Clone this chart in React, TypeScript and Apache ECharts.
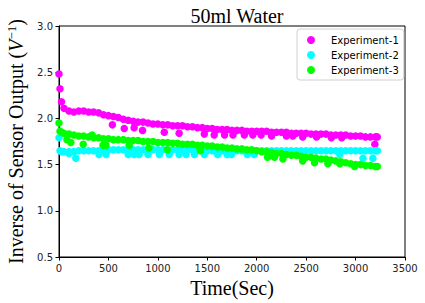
import React, { useEffect, useRef } from "react";
import * as echarts from "echarts";

// Shared sample times (s) for the main trend of each experiment
const timeSec = [
  0, 10, 25, 50, 100, 150, 200, 250, 300, 350, 400, 450, 500, 550, 600, 650, 700, 750, 800, 850,
  900, 950, 1000, 1050, 1100, 1150, 1200, 1250, 1300, 1350, 1400, 1450, 1500, 1550, 1600, 1650,
  1700, 1750, 1800, 1850, 1900, 1950, 2000, 2050, 2100, 2150, 2200, 2250, 2300, 2350, 2400, 2450,
  2500, 2550, 2600, 2650, 2700, 2750, 2800, 2850, 2900, 2950, 3000, 3050, 3100, 3150, 3200, 3220,
];

const exp1 = [
  2.48, 2.32, 2.18, 2.11, 2.08, 2.07, 2.08, 2.08, 2.07, 2.07, 2.06, 2.04, 2.03, 2.02, 2.01, 1.99, 1.98, 1.97, 1.96, 1.96,
  1.95, 1.94, 1.94, 1.93, 1.93, 1.92, 1.92, 1.92, 1.91, 1.91, 1.90, 1.90, 1.89, 1.89, 1.88, 1.88,
  1.88, 1.87, 1.87, 1.87, 1.86, 1.86, 1.86, 1.86, 1.86, 1.85, 1.85, 1.85, 1.85, 1.84, 1.84, 1.84,
  1.84, 1.83, 1.83, 1.83, 1.83, 1.82, 1.82, 1.82, 1.82, 1.81, 1.81, 1.81, 1.80, 1.80, 1.80, 1.80,
];

const exp2 = [
  1.79, 1.65, 1.64, 1.64, 1.64, 1.64, 1.65, 1.65, 1.65, 1.65, 1.65, 1.65, 1.66, 1.66, 1.66, 1.66, 1.66, 1.66, 1.66, 1.66,
  1.66, 1.66, 1.66, 1.66, 1.66, 1.66, 1.66, 1.66, 1.66, 1.66, 1.66, 1.66, 1.65, 1.65, 1.65, 1.65,
  1.65, 1.65, 1.65, 1.65, 1.65, 1.65, 1.65, 1.65, 1.65, 1.65, 1.65, 1.65, 1.65, 1.65, 1.65, 1.65,
  1.65, 1.65, 1.65, 1.65, 1.65, 1.65, 1.65, 1.65, 1.65, 1.65, 1.65, 1.65, 1.65, 1.65, 1.65, 1.65,
];

const exp3 = [
  1.95, 1.86, 1.85, 1.84, 1.83, 1.82, 1.81, 1.81, 1.80, 1.79, 1.79, 1.78, 1.78, 1.77, 1.77, 1.77, 1.76, 1.76, 1.76, 1.75,
  1.75, 1.75, 1.74, 1.74, 1.74, 1.73, 1.73, 1.72, 1.72, 1.72, 1.71, 1.71, 1.70, 1.70, 1.69, 1.69,
  1.68, 1.68, 1.67, 1.67, 1.66, 1.66, 1.65, 1.64, 1.64, 1.63, 1.62, 1.62, 1.61, 1.60, 1.60, 1.59,
  1.58, 1.58, 1.57, 1.56, 1.56, 1.55, 1.54, 1.53, 1.52, 1.51, 1.50, 1.50, 1.49, 1.49, 1.48, 1.48,
];

// Scattered readings that fall off the main trend
const exp1OffTimes = [540, 660, 760, 845, 1065, 1215, 1470, 1570, 1675, 1760, 1875, 1960, 2045, 2150, 2300, 2365, 2465, 2605, 2755, 2860, 3195];
const exp1OffValues = [1.93, 1.89, 1.90, 1.87, 1.85, 1.84, 1.83, 1.82, 1.82, 1.82, 1.82, 1.82, 1.82, 1.81, 1.81, 1.81, 1.80, 1.80, 1.79, 1.79, 1.72];

const exp2OffTimes = [100, 170, 405, 475, 700, 760, 810, 900, 1015, 1115, 1215, 1285, 1370, 1470, 1605, 1700, 1745, 1905, 1975, 2840, 3075, 3175];
const exp2OffValues = [1.62, 1.57, 1.61, 1.61, 1.61, 1.61, 1.61, 1.61, 1.61, 1.61, 1.61, 1.61, 1.61, 1.61, 1.61, 1.61, 1.61, 1.61, 1.61, 1.61, 1.57, 1.57];

const exp3OffTimes = [80, 120, 245, 335, 445, 475, 710, 910, 1095, 1430, 2110, 2180, 2265, 2465, 2585, 2720, 2840, 2990];
const exp3OffValues = [1.77, 1.74, 1.72, 1.82, 1.71, 1.71, 1.71, 1.68, 1.66, 1.65, 1.58, 1.58, 1.56, 1.54, 1.52, 1.51, 1.51, 1.48];

const seriesNames = ["Experiment-1", "Experiment-2", "Experiment-3"];
const seriesColors = ["#ff00ff", "#00ffff", "#00ff00"];

const xTicks = { min: 0, max: 3500, interval: 500 };
const yTicks = { min: 0.5, max: 3.0, interval: 0.5 };

function pairs(times: number[], values: number[]) {
  return times.map((t, i) => [t, values[i]]);
}

export default function App() {
  const ref = useRef<HTMLDivElement>(null);

  useEffect(() => {
    if (!ref.current) return;
    const chart = echarts.init(ref.current, null, { renderer: "svg" });
    const serif = "Liberation Serif";
    const sans = "DejaVu Sans";
    const main = [exp1, exp2, exp3];
    const offT = [exp1OffTimes, exp2OffTimes, exp3OffTimes];
    const offV = [exp1OffValues, exp2OffValues, exp3OffValues];

    chart.setOption({
      animation: false,
      backgroundColor: "#fff",
      title: {
        text: "50ml Water",
        left: 232,
        textAlign: "center",
        top: 1,
        textStyle: { fontFamily: serif, fontSize: 20, fontWeight: "normal", color: "#000" },
      },
      grid: {
        left: 59,
        right: 20,
        top: 26,
        bottom: 46,
        outerBoundsMode: "none",
        containLabel: false,
        show: true,
        borderColor: "#000",
        borderWidth: 1,
        backgroundColor: "transparent",
      },
      legend: {
        orient: "vertical",
        left: 297,
        top: 29,
        padding: [5, 5, 4, 10],
        itemWidth: 8,
        itemHeight: 8,
        itemGap: 3,
        icon: "circle",
        backgroundColor: "#fff",
        borderColor: "#d0d0d0",
        borderWidth: 1,
        borderRadius: 3,
        textStyle: { fontFamily: sans, fontSize: 10, color: "#000", lineHeight: 12, padding: [0, 0, 0, 11] },
        data: seriesNames,
      },
      xAxis: {
        type: "value",
        min: xTicks.min,
        max: xTicks.max,
        interval: xTicks.interval,
        name: "Time(Sec)",
        nameLocation: "middle",
        nameGap: 16,
        nameTextStyle: { fontFamily: serif, fontSize: 20, color: "#000" },
        axisLine: { show: true, lineStyle: { color: "#000" } },
        axisTick: { show: true, length: 3.5, lineStyle: { color: "#000" } },
        axisLabel: {
          fontFamily: sans,
          fontSize: 10,
          color: "#222",
          margin: 6,
          formatter: (v: number) => String(v),
        },
        splitLine: { show: false },
      },
      yAxis: {
        type: "value",
        min: yTicks.min,
        max: yTicks.max,
        interval: yTicks.interval,
        name: "{n|Inverse of Sensor Output (}{v|V}{s|−1}{n|)}",
        nameLocation: "middle",
        nameGap: 33,
        nameRotate: 90,
        nameTextStyle: {
          fontFamily: serif,
          fontSize: 20,
          color: "#000",
          rich: {
            n: { fontFamily: serif, fontSize: 20, color: "#000" },
            v: { fontFamily: serif, fontSize: 20, fontStyle: "italic", color: "#000" },
            s: { fontFamily: serif, fontSize: 13, color: "#000", verticalAlign: "top", padding: [0, 0, 8, 0] },
          },
        },
        axisLine: { show: true, lineStyle: { color: "#000" } },
        axisTick: { show: true, length: 3.5, lineStyle: { color: "#000" } },
        axisLabel: {
          fontFamily: sans,
          fontSize: 10,
          color: "#222",
          margin: 6,
          formatter: (v: number) => v.toFixed(1),
        },
        splitLine: { show: false },
      },
      series: seriesNames.map((name, k) => ({
        name,
        type: "scatter",
        symbol: "circle",
        symbolSize: 7.5,
        itemStyle: { color: seriesColors[k], opacity: 1 },
        data: pairs(timeSec, main[k]).concat(pairs(offT[k], offV[k])),
      })),
    });
    return () => chart.dispose();
  }, []);

  return (
    <div
      ref={ref}
      style={{ position: "fixed", left: 0, top: 0, width: 425, height: 303, background: "#fff" }}
    />
  );
}
